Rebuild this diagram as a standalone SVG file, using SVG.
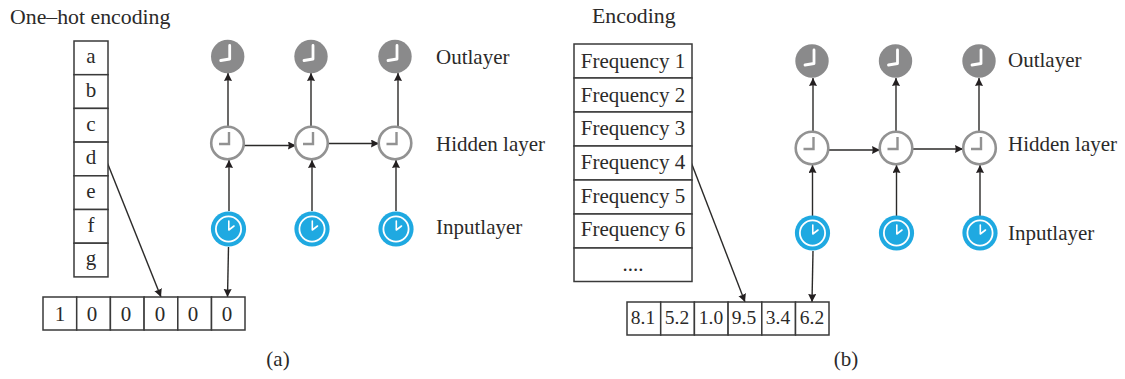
<svg xmlns="http://www.w3.org/2000/svg" xmlns:xlink="http://www.w3.org/1999/xlink" width="1125" height="379" viewBox="0 0 1125 379">
<style>
text{font-family:"Liberation Serif","Times New Roman",serif;font-size:21px;fill:#2b2a29}
.c{text-anchor:middle}
.t{font-size:21.800px}
.n{font-size:19.500px}
.box{fill:#fff;stroke:#3a3a3a;stroke-width:1.5}
.ln{fill:none;stroke:#2b2a29;stroke-width:1.4}
.hand{fill:none;stroke-linecap:round;stroke-linejoin:round}
</style>
<defs>
<marker id="ah" markerUnits="userSpaceOnUse" markerWidth="10" markerHeight="10" refX="8" refY="4" orient="auto"><path d="M0 0L8 4L0 8L0.800 4Z" fill="#231f20"/></marker>
<g id="out"><circle r="16.7" fill="#8a8a8b"/><path class="hand" d="M2-11V2.500L-7 4" stroke="#fff" stroke-width="2.800"/></g>
<g id="hid"><circle r="16.3" fill="#fff" stroke="#929292" stroke-width="2.600"/><path d="M1.500-11V1H-8.500" fill="none" stroke="#929292" stroke-width="2.400"/></g>
<g id="inp"><circle r="17.6" fill="#1fa9e1"/><circle r="12.6" fill="none" stroke="#fff" stroke-width="1.800"/><path class="hand" d="M0.300-8V1L5.500-3" stroke="#fff" stroke-width="1.600"/></g>
</defs>

<g id="connectors">
<path class="ln" marker-end="url(#ah)" d="M228 126V73"/>
<path class="ln" marker-end="url(#ah)" d="M311 126V73"/>
<path class="ln" marker-end="url(#ah)" d="M398 126V73"/>
<path class="ln" marker-end="url(#ah)" d="M244 145.500H296"/>
<path class="ln" marker-end="url(#ah)" d="M328 143.500H379"/>
<path class="ln" marker-end="url(#ah)" d="M229 211V160"/>
<path class="ln" marker-end="url(#ah)" d="M312 211V160"/>
<path class="ln" marker-end="url(#ah)" d="M396 211V160"/>
<path class="ln" marker-end="url(#ah)" d="M105 157L161 297"/>
<path class="ln" marker-end="url(#ah)" d="M228.500 247L227.500 297"/>
<path class="ln" marker-end="url(#ah)" d="M813 131V78"/>
<path class="ln" marker-end="url(#ah)" d="M896 131V78"/>
<path class="ln" marker-end="url(#ah)" d="M979 131V78"/>
<path class="ln" marker-end="url(#ah)" d="M829 150H880"/>
<path class="ln" marker-end="url(#ah)" d="M913 149H963"/>
<path class="ln" marker-end="url(#ah)" d="M812.500 216V165"/>
<path class="ln" marker-end="url(#ah)" d="M896.500 216V165"/>
<path class="ln" marker-end="url(#ah)" d="M980 216V165"/>
<path class="ln" marker-end="url(#ah)" d="M691 162L745 302"/>
<path class="ln" marker-end="url(#ah)" d="M813 251L812 302"/>
</g>

<g id="node-a-title"><text class="t" x="10" y="24">One–hot encoding</text></g>
<g id="node-onehot-column">
<rect class="box" x="74" y="41" width="34" height="33.700"/><text class="c" x="91" y="63">a</text>
<rect class="box" x="74" y="74.700" width="34" height="33.700"/><text class="c" x="91" y="97">b</text>
<rect class="box" x="74" y="108.400" width="34" height="33.700"/><text class="c" x="91" y="131">c</text>
<rect class="box" x="74" y="142.100" width="34" height="33.700"/><text class="c" x="91" y="164">d</text>
<rect class="box" x="74" y="175.800" width="34" height="33.700"/><text class="c" x="91" y="198">e</text>
<rect class="box" x="74" y="209.500" width="34" height="33.700"/><text class="c" x="91" y="232">f</text>
<rect class="box" x="74" y="243.200" width="34" height="33.700"/><text class="c" x="91" y="265">g</text>
</g>
<g id="node-onehot-row">
<rect class="box" x="43" y="297" width="33.700" height="33"/><text class="c" x="60" y="321">1</text>
<rect class="box" x="76.700" y="297" width="33.700" height="33"/><text class="c" x="92" y="321">0</text>
<rect class="box" x="110.400" y="297" width="33.700" height="33"/><text class="c" x="126" y="321">0</text>
<rect class="box" x="144.100" y="297" width="33.700" height="33"/><text class="c" x="160" y="321">0</text>
<rect class="box" x="177.800" y="297" width="33.700" height="33"/><text class="c" x="193" y="321">0</text>
<rect class="box" x="211.500" y="297" width="33.500" height="33"/><text class="c" x="227" y="321">0</text>
</g>
<g id="node-a-out1"><use href="#out" x="227.700" y="56.500"/></g>
<g id="node-a-out2"><use href="#out" x="311" y="56.500"/></g>
<g id="node-a-out3"><use href="#out" x="395" y="56.500"/></g>
<g id="node-a-hid1"><use href="#hid" x="227.500" y="143"/></g>
<g id="node-a-hid2"><use href="#hid" x="311.500" y="143"/></g>
<g id="node-a-hid3"><use href="#hid" x="395" y="143"/></g>
<g id="node-a-inp1"><use href="#inp" x="228.500" y="229"/></g>
<g id="node-a-inp2"><use href="#inp" x="312" y="229"/></g>
<g id="node-a-inp3"><use href="#inp" x="396" y="229"/></g>
<g id="node-a-labels">
<text x="436" y="64">Outlayer</text>
<text x="436" y="151">Hidden layer</text>
<text x="436" y="234">Inputlayer</text>
<text class="c" x="278" y="366">(a)</text>
</g>

<g id="node-b-title"><text class="t" x="592" y="23">Encoding</text></g>
<g id="node-freq-column">
<rect class="box" x="574" y="44" width="118" height="34"/><text class="c" x="633" y="68">Frequency 1</text>
<rect class="box" x="574" y="78" width="118" height="34"/><text class="c" x="633" y="102">Frequency 2</text>
<rect class="box" x="574" y="112" width="118" height="34"/><text class="c" x="633" y="135">Frequency 3</text>
<rect class="box" x="574" y="146" width="118" height="34"/><text class="c" x="633" y="169">Frequency 4</text>
<rect class="box" x="574" y="180" width="118" height="34"/><text class="c" x="633" y="203">Frequency 5</text>
<rect class="box" x="574" y="214" width="118" height="34"/><text class="c" x="633" y="236">Frequency 6</text>
<rect class="box" x="574" y="248" width="118" height="33.500"/><text class="c" x="633" y="271">....</text>
</g>
<g id="node-freq-row">
<rect class="box" x="627" y="302" width="33.700" height="33"/><text class="c n" x="643" y="324">8.1</text>
<rect class="box" x="660.700" y="302" width="33.700" height="33"/><text class="c n" x="677" y="324">5.2</text>
<rect class="box" x="694.400" y="302" width="33.700" height="33"/><text class="c n" x="711" y="324">1.0</text>
<rect class="box" x="728.100" y="302" width="33.700" height="33"/><text class="c n" x="744" y="324">9.5</text>
<rect class="box" x="761.800" y="302" width="33.700" height="33"/><text class="c n" x="778" y="324">3.4</text>
<rect class="box" x="795.500" y="302" width="33.500" height="33"/><text class="c n" x="812" y="324">6.2</text>
</g>
<g id="node-b-out1"><use href="#out" x="812" y="61"/></g>
<g id="node-b-out2"><use href="#out" x="895.500" y="61"/></g>
<g id="node-b-out3"><use href="#out" x="979" y="61"/></g>
<g id="node-b-hid1"><use href="#hid" x="812" y="148"/></g>
<g id="node-b-hid2"><use href="#hid" x="896" y="148"/></g>
<g id="node-b-hid3"><use href="#hid" x="979.500" y="148"/></g>
<g id="node-b-inp1"><use href="#inp" x="812.500" y="233"/></g>
<g id="node-b-inp2"><use href="#inp" x="896.500" y="233"/></g>
<g id="node-b-inp3"><use href="#inp" x="980" y="233"/></g>
<g id="node-b-labels">
<text x="1008" y="67">Outlayer</text>
<text x="1008" y="151">Hidden layer</text>
<text x="1008" y="240">Inputlayer</text>
<text class="c" x="846" y="366">(b)</text>
</g>
</svg>
